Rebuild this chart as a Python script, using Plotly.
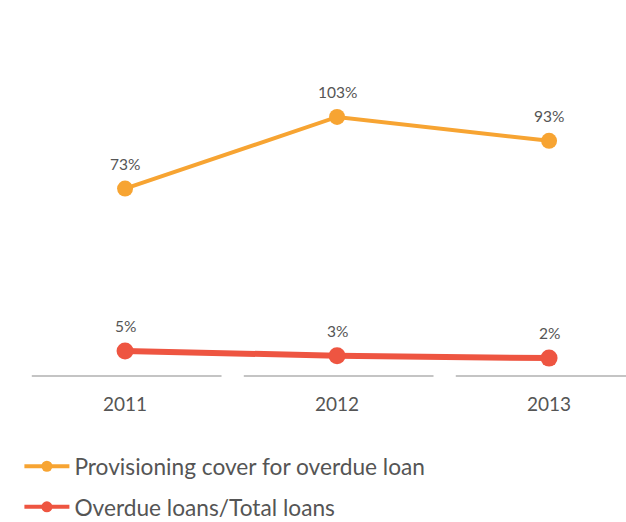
import plotly.graph_objects as go

years = ["2011", "2012", "2013"]
provisioning = [73, 103, 93]
overdue = [5, 3, 2]
prov_labels = ["73%", "103%", "93%"]
over_labels = ["5%", "3%", "2%"]
series_names = ["Provisioning cover for overdue loan", "Overdue loans/Total loans"]

xs = list(range(len(years)))
orange = "#F7A432"
red = "#EE5541"
grey = "#555555"

fig = go.Figure()
fig.add_trace(go.Scatter(
    x=xs, y=provisioning, mode="lines+markers",
    name=series_names[0], showlegend=False,
    line=dict(color=orange, width=4),
    marker=dict(color=orange, size=16),
))
fig.add_trace(go.Scatter(
    x=xs, y=overdue, mode="lines+markers",
    name=series_names[1], showlegend=False,
    line=dict(color=red, width=6),
    marker=dict(color=red, size=17),
))
# value labels
for vals, labels in ((provisioning, prov_labels), (overdue, over_labels)):
    for x, v, t in zip(xs, vals, labels):
        fig.add_annotation(x=x, y=v, text=t, showarrow=False, yshift=25,
                           font=dict(family="Lato", size=15.5, color=grey))
# legend entries
fig.add_trace(go.Scatter(
    x=[None], y=[None], mode="lines+markers", name=series_names[0],
    line=dict(color=orange, width=4), marker=dict(color=orange, size=11),
    legendgroup="a",
))
fig.add_trace(go.Scatter(
    x=[None], y=[None], mode="lines+markers", name=series_names[1],
    line=dict(color=red, width=4), marker=dict(color=red, size=11),
    legendgroup="b",
))

for i in xs:
    fig.add_shape(type="line", xref="x", yref="paper",
                  x0=i - 0.44, x1=i + 0.455, y0=0, y1=0,
                  line=dict(color="#8a8a8a", width=1.2))

fig.update_layout(
    width=626, height=522,
    margin=dict(l=0, r=0, t=20, b=146, autoexpand=False),
    paper_bgcolor="white", plot_bgcolor="white",
    font=dict(family="Lato", color=grey),
    showlegend=True,
    legend=dict(
        orientation="v", xref="container", yref="container",
        x=0.031, y=0.1475, xanchor="left", yanchor="top",
        font=dict(family="Lato", size=22.7, color=grey),
        tracegroupgap=8, itemwidth=45,
    ),
    xaxis=dict(
        range=[-0.59, 2.363], tickmode="array", tickvals=xs, ticktext=years,
        showgrid=False, zeroline=False, showline=False, ticks="",
        tickfont=dict(family="Lato", size=19, color=grey),
        ticklabelstandoff=15,
        fixedrange=True,
    ),
    yaxis=dict(
        range=[-5.49, 143.6], visible=False, showgrid=False, zeroline=False,
    ),
)

fig.write_html("out.html")
